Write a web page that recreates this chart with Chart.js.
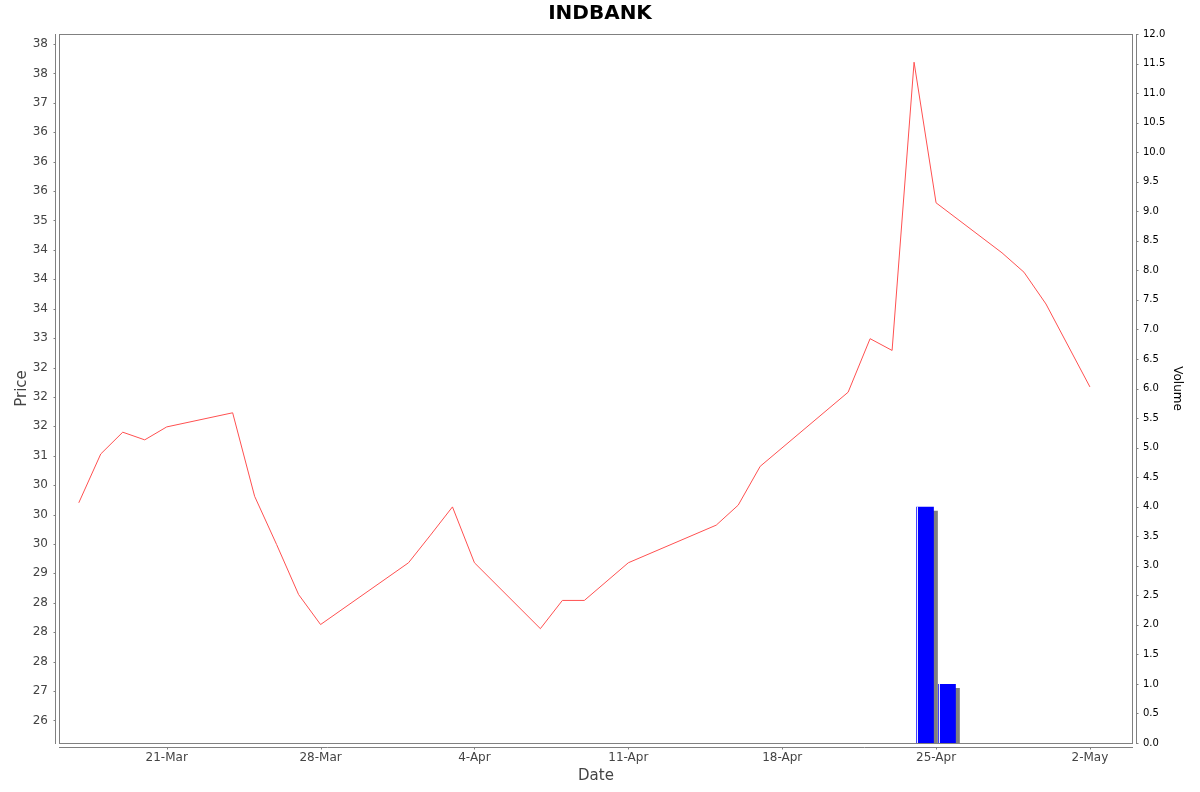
<!DOCTYPE html>
<html>
<head>
<meta charset="utf-8">
<title>INDBANK</title>
<script src="https://cdn.jsdelivr.net/npm/chart.js@4.4.1/dist/chart.umd.min.js"></script>
<style>
    html, body { margin: 0; padding: 0; background: #fff; }
    canvas { display: block; }
</style>
</head>
<body>
<canvas id="indbankChart" width="1200" height="792"></canvas>
<script>
// Trading days shown on the chart
const tradeDates = [
    '2025-03-17', '2025-03-18', '2025-03-19', '2025-03-20', '2025-03-21',
    '2025-03-24', '2025-03-25', '2025-03-26', '2025-03-27', '2025-03-28',
    '2025-04-01', '2025-04-02', '2025-04-03', '2025-04-04',
    '2025-04-07', '2025-04-08', '2025-04-09', '2025-04-11',
    '2025-04-15', '2025-04-16', '2025-04-17',
    '2025-04-21', '2025-04-22', '2025-04-23', '2025-04-24', '2025-04-25',
    '2025-04-28', '2025-04-29', '2025-04-30', '2025-05-02'
];

// Closing price for each trading day
const closePrices = [
    30.20, 31.03, 31.40, 31.27, 31.49,
    31.73, 30.31, 29.49, 28.64, 28.13,
    29.18, 29.65, 30.13, 29.18,
    28.06, 28.54, 28.54, 29.18,
    29.82, 30.16, 30.82,
    32.08, 32.99, 32.79, 37.69, 35.30,
    34.45, 34.12, 33.58, 32.17
];

// Volume for each trading day
const volumes = [
    0, 0, 0, 0, 0,
    0, 0, 0, 0, 0,
    0, 0, 0, 0,
    0, 0, 0, 0,
    0, 0, 0,
    0, 0, 0, 4.0, 1.0,
    0, 0, 0, 0
];

// Axis ticks
const priceTicks = [26.5, 27, 27.5, 28, 28.5, 29, 29.5, 30, 30.5, 31, 31.5, 32,
    32.5, 33, 33.5, 34, 34.5, 35, 35.5, 36, 36.5, 37, 37.5, 38];
const priceTickLabels = ['26', '27', '28', '28', '28', '29', '30', '30', '30', '31', '32', '32',
    '32', '33', '34', '34', '34', '35', '36', '36', '36', '37', '38', '38'];
const dateTicks = ['2025-03-21', '2025-03-28', '2025-04-04', '2025-04-11', '2025-04-18', '2025-04-25', '2025-05-02'];
const dateTickLabels = ['21-Mar', '28-Mar', '4-Apr', '11-Apr', '18-Apr', '25-Apr', '2-May'];

// ngày -> số ngày (UTC)
function dayNum(s) {
    const p = s.split('-').map(Number);
    return Date.UTC(p[0], p[1] - 1, p[2]) / 86400000;
}

const xMin = dayNum('2025-03-16') + 0.1;
const xMax = dayNum('2025-05-03') + 0.96;

Chart.defaults.font.family = "'DejaVu Sans', sans-serif";

// Khung plot + trục lệch ra ngoài như JFreeChart
const axisFrame = {
    id: 'axisFrame',
    afterDraw(chart) {
        const { ctx, chartArea: a, scales } = chart;
        ctx.save();
        ctx.strokeStyle = '#808080';
        ctx.lineWidth = 1;
        ctx.strokeRect(a.left + 0.5, a.top + 0.5, a.right - a.left - 1, a.bottom - a.top);

        const lx = a.left - 4 + 0.5;
        const rx = a.right + 4 - 0.5;
        const by = a.bottom + 4 + 0.5;
        ctx.beginPath();
        ctx.moveTo(lx, a.top);
        ctx.lineTo(lx, a.bottom + 1);
        ctx.moveTo(rx, a.top);
        ctx.lineTo(rx, a.bottom + 1);
        ctx.moveTo(a.left, by);
        ctx.lineTo(a.right, by);

        scales.y.ticks.forEach(t => {
            const y = Math.round(scales.y.getPixelForValue(t.value)) + 0.5;
            ctx.moveTo(lx - 2, y);
            ctx.lineTo(lx, y);
        });
        scales.yVol.ticks.forEach(t => {
            const y = Math.round(scales.yVol.getPixelForValue(t.value)) + 0.5;
            ctx.moveTo(rx, y);
            ctx.lineTo(rx + 2, y);
        });
        scales.x.ticks.forEach(t => {
            const x = Math.round(scales.x.getPixelForValue(t.value)) + 0.5;
            ctx.moveTo(x, by);
            ctx.lineTo(x, by + 2);
        });
        ctx.stroke();
        ctx.restore();
    }
};

// Bóng xám phía sau các cột volume + vệt sáng bên trái cột
const barShadow = {
    id: 'barShadow',
    beforeDatasetDraw(chart, args) {
        if (args.meta.type !== 'bar') return;
        const ctx = chart.ctx;
        ctx.save();
        ctx.shadowColor = '#808080';
        ctx.shadowOffsetX = 4;
        ctx.shadowOffsetY = 4;
        ctx.shadowBlur = 0;
    },
    afterDatasetDraw(chart, args) {
        if (args.meta.type !== 'bar') return;
        const ctx = chart.ctx;
        ctx.restore();
        ctx.save();
        ctx.strokeStyle = 'rgba(255,255,255,0.9)';
        ctx.lineWidth = 1;
        ctx.beginPath();
        args.meta.data.forEach(bar => {
            const p = bar.getProps(['x', 'y', 'base', 'width'], true);
            if (p.base - p.y < 1) return;
            const x = Math.round(p.x - p.width / 2) + 1.5;
            ctx.moveTo(x, p.y);
            ctx.lineTo(x, p.base);
        });
        ctx.stroke();
        ctx.restore();
    }
};

const ctx = document.getElementById('indbankChart').getContext('2d');

new Chart(ctx, {
    type: 'line',
    data: {
        datasets: [
            {
                type: 'line',
                label: 'Price',
                data: tradeDates.map((d, i) => ({ x: dayNum(d), y: closePrices[i] })),
                borderColor: '#ff5050',
                borderWidth: 1,
                pointRadius: 0,
                tension: 0,
                fill: false,
                yAxisID: 'y'
            },
            {
                type: 'bar',
                label: 'Volume',
                // cột volume phủ cả ngày giao dịch -> đặt ở giữa ngày
                data: tradeDates.map((d, i) => ({ x: dayNum(d) + 0.5, y: volumes[i] })),
                backgroundColor: '#0000ff',
                borderWidth: 0,
                inflateAmount: 0,
                barThickness: 17.6,
                yAxisID: 'yVol'
            }
        ]
    },
    options: {
        responsive: false,
        animation: false,
        devicePixelRatio: 1,
        layout: { padding: 0 },
        plugins: {
            legend: { display: false },
            tooltip: { enabled: false },
            title: {
                display: true,
                text: 'INDBANK',
                color: '#000',
                font: { size: 20, weight: 'bold' },
                padding: { top: 2, bottom: 8 }
            }
        },
        scales: {
            x: {
                type: 'linear',
                position: 'bottom',
                min: xMin,
                max: xMax,
                offset: false,
                grid: { display: false, drawTicks: false },
                border: { display: false },
                afterBuildTicks: scale => {
                    scale.ticks = dateTicks.map(d => ({ value: dayNum(d) }));
                },
                afterFit: scale => { scale.height = 49; },
                ticks: {
                    autoSkip: false,
                    maxRotation: 0,
                    minRotation: 0,
                    padding: 8,
                    color: '#444',
                    font: { size: 12 },
                    callback: (v, i) => dateTickLabels[i]
                },
                title: {
                    display: true,
                    text: 'Date',
                    color: '#444',
                    font: { size: 15 },
                    padding: { top: 0, bottom: 7 }
                }
            },
            y: {
                type: 'linear',
                position: 'left',
                min: 26.116,
                max: 38.17,
                grid: { display: false, drawTicks: false },
                border: { display: false },
                afterBuildTicks: scale => {
                    scale.ticks = priceTicks.map(v => ({ value: v }));
                },
                afterFit: scale => { scale.width = 59; },
                ticks: {
                    autoSkip: false,
                    padding: 11,
                    color: '#444',
                    font: { size: 12 },
                    callback: (v, i) => priceTickLabels[i]
                },
                title: {
                    display: true,
                    text: 'Price',
                    color: '#444',
                    font: { size: 15 },
                    padding: { top: 13, bottom: 0 }
                }
            },
            yVol: {
                type: 'linear',
                position: 'right',
                min: 0,
                max: 12,
                grid: { display: false, drawTicks: false },
                border: { display: false },
                afterFit: scale => { scale.width = 67; },
                ticks: {
                    autoSkip: false,
                    stepSize: 0.5,
                    padding: 10,
                    color: '#000',
                    font: { size: 10 },
                    callback: v => Number(v).toFixed(1)
                },
                title: {
                    display: true,
                    text: 'Volume',
                    color: '#000',
                    font: { size: 12 },
                    padding: { top: 16, bottom: 0 }
                }
            }
        }
    },
    plugins: [axisFrame, barShadow]
});
</script>
</body>
</html>
